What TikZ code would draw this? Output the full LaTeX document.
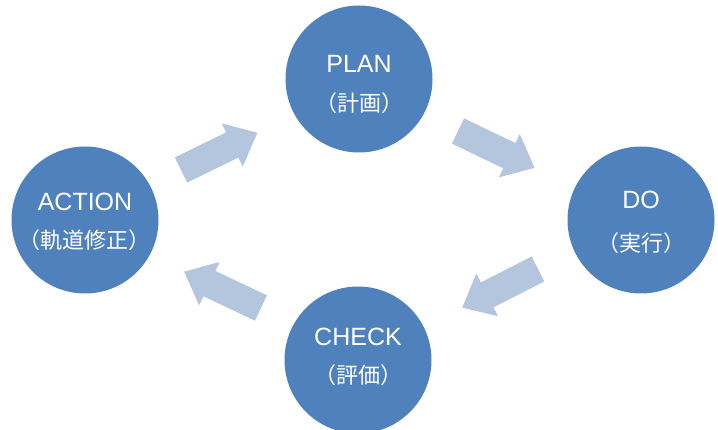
\documentclass[tikz,border=0pt]{standalone}
\usepackage{fontspec}
\setmainfont{Liberation Sans}
\newfontfamily\jp{Noto Sans CJK JP}
\definecolor{circblue}{RGB}{79,129,189}
\definecolor{arrowblue}{RGB}{180,197,222}
\begin{document}
\begin{tikzpicture}[x=1pt,y=-1pt,
  phase/.style={circle,fill=circblue,minimum size=147pt,inner sep=0pt},
  entxt/.style={text=white,font=\fontsize{25}{25}\selectfont,inner sep=0pt},
  jptxt/.style={text=white,font=\jp\fontsize{22}{22}\selectfont,inner sep=0pt},
  pics/cyclearrow/.style={code={
    \fill[arrowblue] (0,-14) -- (57,-14) -- (57,-24) -- (85,0) -- (57,24) -- (57,14) -- (0,14) -- cycle;
  }}]
\useasboundingbox (0,0) rectangle (718,430);
% phases
\node[phase] (plan) at (359,79) {};
\node[phase] (do) at (641,220) {};
\node[phase] (check) at (358,360) {};
\node[phase] (action) at (85,220) {};
% labels
\node[entxt] (planen) at (359,64) {PLAN};
\node[jptxt] (planjp) at (359,103) {（計画）};
\node[entxt] (doen) at (641,200) {DO};
\node[jptxt] (dojp) at (641,243) {（実行）};
\node[entxt] (checken) at (358,337) {CHECK};
\node[jptxt] (checkjp) at (358,375) {（評価）};
\node[entxt] (actionen) at (85,202) {ACTION};
\node[jptxt] (actionjp) at (85,240) {（軌道修正）};
% arrows
\pic[shift={(181,170)},rotate=26] {cyclearrow};
\pic[shift={(458,131)},rotate=-25.7] {cyclearrow};
\pic[shift={(538,269)},rotate=-153] {cyclearrow};
\pic[shift={(261,308)},rotate=154.7] {cyclearrow};
\end{tikzpicture}
\end{document}
